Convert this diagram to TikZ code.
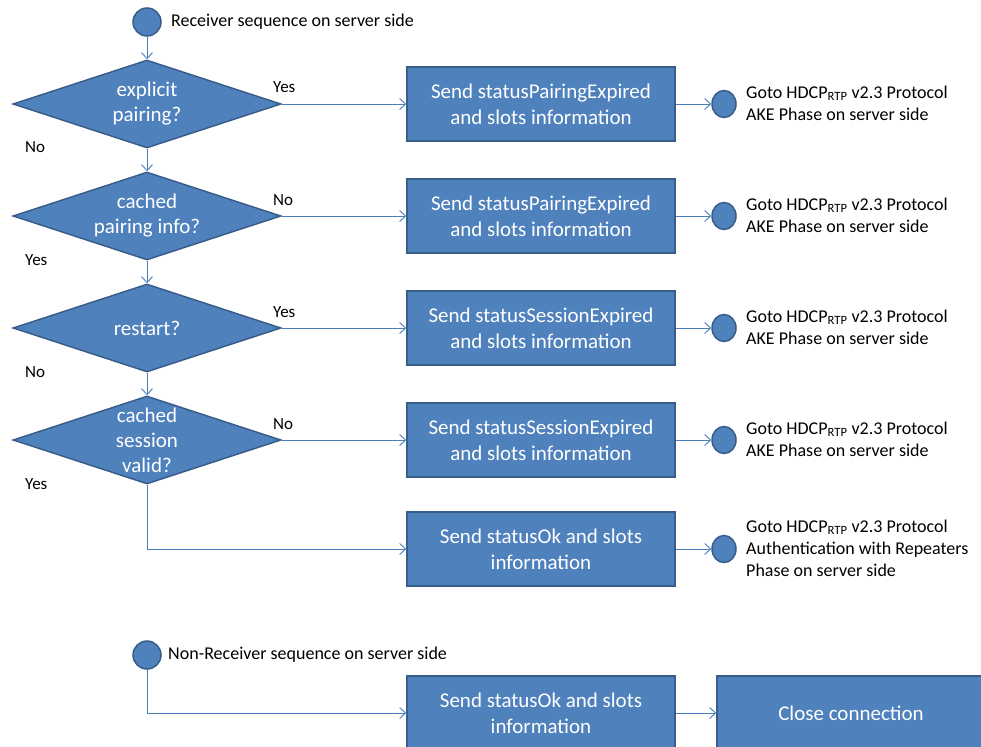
\documentclass[tikz,border=0pt]{standalone}
\usepackage{fontspec}
\setmainfont{Carlito}
\usetikzlibrary{shapes.geometric,arrows.meta}
\definecolor{boxfill}{HTML}{4F81BD}
\definecolor{boxline}{HTML}{385D8A}
\definecolor{wire}{HTML}{4A7EBB}
\tikzset{
  decision/.style={diamond, draw=boxline, fill=boxfill, line width=1.5pt,
    minimum width=268pt, minimum height=88pt, aspect=3.05, inner sep=0pt,
    text=white, align=center, font=\fontsize{21}{25}\selectfont},
  action/.style={rectangle, draw=boxline, fill=boxfill, line width=1.5pt,
    minimum width=268pt, minimum height=74pt, inner sep=0pt,
    text=white, align=center, font=\fontsize{21}{26}\selectfont},
  terminal/.style={ellipse, draw=boxline, fill=boxfill, line width=1.5pt,
    minimum width=24pt, minimum height=27pt, inner sep=0pt},
  origin/.style={terminal, minimum width=28pt, minimum height=28pt},
  flow/.style={draw=wire, line width=0.9pt, -{Straight Barb[length=6pt,width=11pt]}},
  note/.style={anchor=west, align=left, inner sep=0pt, font=\fontsize{18}{22}\selectfont},
  answer/.style={anchor=base west, inner sep=0pt, font=\fontsize{17}{20}\selectfont},
}
\newcommand{\hdcp}{Goto HDCP\textsubscript{RTP} v2.3 Protocol}
\begin{document}
\begin{tikzpicture}[x=1pt,y=-1pt]
\useasboundingbox (0,0) rectangle (981,746);

% receiver sequence
\node[origin] (start) at (147,22) {};
\node[note] (startlbl) at (171,22) {Receiver sequence on server side};

\node[decision] (d1) at (147,104) {explicit\\pairing?};
\node[decision] (d2) at (147,216) {cached\\pairing info?};
\node[decision] (d3) at (147,328) {restart?};
\node[decision] (d4) at (147,440) {cached\\session\\valid?};

\node[action] (b1) at (541,104) {Send statusPairingExpired\\and slots information};
\node[action] (b2) at (541,216) {Send statusPairingExpired\\and slots information};
\node[action] (b3) at (541,328) {Send statusSessionExpired\\and slots information};
\node[action] (b4) at (541,440) {Send statusSessionExpired\\and slots information};
\node[action] (b5) at (541,549) {Send statusOk and slots\\information};

\node[terminal] (e1) at (724,104) {};
\node[terminal] (e2) at (724,216) {};
\node[terminal] (e3) at (724,328) {};
\node[terminal] (e4) at (724,440) {};
\node[terminal] (e5) at (724,549) {};

\node[note] (n1) at (746,103) {\hdcp\\AKE Phase on server side};
\node[note] (n2) at (746,215) {\hdcp\\AKE Phase on server side};
\node[note] (n3) at (746,327) {\hdcp\\AKE Phase on server side};
\node[note] (n4) at (746,439) {\hdcp\\AKE Phase on server side};
\node[note] (n5) at (746,548) {\hdcp\\Authentication with Repeaters\\Phase on server side};

\node[answer] (a1r) at (273,93) {Yes};
\node[answer] (a1d) at (25,153) {No};
\node[answer] (a2r) at (273,205) {No};
\node[answer] (a2d) at (25,265) {Yes};
\node[answer] (a3r) at (273,317) {Yes};
\node[answer] (a3d) at (25,377) {No};
\node[answer] (a4r) at (273,429) {No};
\node[answer] (a4d) at (25,489) {Yes};

\draw[flow] (start) -- (d1.north);
\draw[flow] (d1.south) -- (d2.north);
\draw[flow] (d2.south) -- (d3.north);
\draw[flow] (d3.south) -- (d4.north);
\draw[flow] (d1.east) -- (b1.west);
\draw[flow] (d2.east) -- (b2.west);
\draw[flow] (d3.east) -- (b3.west);
\draw[flow] (d4.east) -- (b4.west);
\draw[flow] (d4.south) |- (b5.west);
\draw[flow] (b1) -- (e1);
\draw[flow] (b2) -- (e2);
\draw[flow] (b3) -- (e3);
\draw[flow] (b4) -- (e4);
\draw[flow] (b5) -- (e5);

% non-receiver sequence
\node[origin] (start2) at (147,655) {};
\node[note] (start2lbl) at (168,655) {Non-Receiver sequence on server side};
\node[action] (b6) at (541,713) {Send statusOk and slots\\information};
\node[action] (b7) at (851,713) {Close connection};
\draw[flow] (start2) |- (b6.west);
\draw[flow] (b6) -- (b7);
\end{tikzpicture}
\end{document}
